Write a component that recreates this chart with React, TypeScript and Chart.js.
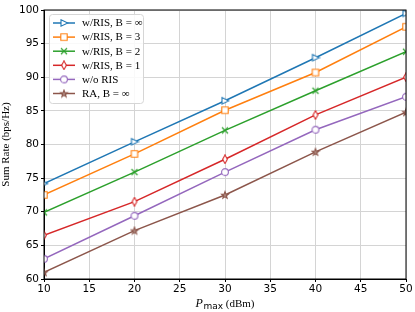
import React, { useEffect, useRef } from "react";
import { Chart, registerables } from "chart.js";

Chart.register(...registerables);

const powers = [10, 20, 30, 40, 50];
const labels = ["w/RIS, B = ∞", "w/RIS, B = 3", "w/RIS, B = 2", "w/RIS, B = 1", "w/o RIS", "RA, B = ∞"];
const risInf = [74.2, 80.4, 86.5, 92.9, 99.5];
const risB3 = [72.5, 78.6, 85.1, 90.7, 97.5];
const risB2 = [69.9, 75.9, 82.1, 88.0, 93.8];
const risB1 = [66.5, 71.5, 77.8, 84.4, 90.0];
const noRis = [63.0, 69.4, 75.9, 82.2, 87.1];
const raInf = [61.0, 67.2, 72.5, 78.9, 84.8];
const xTicks = [10, 15, 20, 25, 30, 35, 40, 45, 50];
const yTicks = [60, 65, 70, 75, 80, 85, 90, 95, 100];

const colors = ["#1f77b4", "#ff7f0e", "#2ca02c", "#d62728", "#9467bd", "#8c564b"];
const markerKinds = ["triR", "square", "x", "diamond", "circle", "star"];

function makeMarker(kind: string, color: string): HTMLCanvasElement {
  const c = document.createElement("canvas");
  const S = 10;
  c.width = S;
  c.height = S;
  const ctx = c.getContext("2d")!;
  const m = S / 2;
  ctx.strokeStyle = color;
  ctx.fillStyle = "#ffffff";
  ctx.lineWidth = 1.1;
  ctx.beginPath();
  if (kind === "triR") {
    ctx.moveTo(2, 1.8);
    ctx.lineTo(8.8, m);
    ctx.lineTo(2, S - 1.8);
    ctx.closePath();
    ctx.fill();
    ctx.stroke();
  } else if (kind === "square") {
    ctx.rect(1.8, 1.8, 6.4, 6.4);
    ctx.fill();
    ctx.stroke();
  } else if (kind === "x") {
    ctx.lineWidth = 1.2;
    ctx.moveTo(2, 2);
    ctx.lineTo(8, 8);
    ctx.moveTo(8, 2);
    ctx.lineTo(2, 8);
    ctx.stroke();
  } else if (kind === "diamond") {
    ctx.moveTo(m, 0.8);
    ctx.lineTo(m + 2.4, m);
    ctx.lineTo(m, S - 0.8);
    ctx.lineTo(m - 2.4, m);
    ctx.closePath();
    ctx.fill();
    ctx.stroke();
  } else if (kind === "circle") {
    ctx.arc(m, m, 3.4, 0, Math.PI * 2);
    ctx.fill();
    ctx.stroke();
  } else if (kind === "star") {
    for (let i = 0; i < 10; i++) {
      const r = i % 2 === 0 ? 3.6 : 1.5;
      const a = -Math.PI / 2 + (i * Math.PI) / 5;
      const px = m + r * Math.cos(a);
      const py = m + 0.3 + r * Math.sin(a);
      if (i === 0) ctx.moveTo(px, py);
      else ctx.lineTo(px, py);
    }
    ctx.closePath();
    ctx.fillStyle = "#b08a80";
    ctx.fill();
    ctx.stroke();
  }
  return c;
}

export default function App() {
  const ref = useRef<HTMLCanvasElement | null>(null);

  useEffect(() => {
    document.body.style.margin = "0";
    const markers = markerKinds.map((k, i) => makeMarker(k, colors[i]));
    const series = [risInf, risB3, risB2, risB1, noRis, raInf];

    const legendPlugin = {
      id: "customLegend",
      afterDatasetsDraw(chart: any) {
        const ctx = chart.ctx as CanvasRenderingContext2D;
        ctx.save();
        const x0 = 49.5, y0 = 14.5, w = 94, h = 89, r = 3;
        ctx.beginPath();
        ctx.moveTo(x0 + r, y0);
        ctx.lineTo(x0 + w - r, y0);
        ctx.quadraticCurveTo(x0 + w, y0, x0 + w, y0 + r);
        ctx.lineTo(x0 + w, y0 + h - r);
        ctx.quadraticCurveTo(x0 + w, y0 + h, x0 + w - r, y0 + h);
        ctx.lineTo(x0 + r, y0 + h);
        ctx.quadraticCurveTo(x0, y0 + h, x0, y0 + h - r);
        ctx.lineTo(x0, y0 + r);
        ctx.quadraticCurveTo(x0, y0, x0 + r, y0);
        ctx.closePath();
        ctx.fillStyle = "rgba(255,255,255,0.85)";
        ctx.fill();
        ctx.strokeStyle = "#d6d6d6";
        ctx.lineWidth = 1;
        ctx.stroke();
        ctx.font = "11px 'Liberation Serif', serif";
        ctx.textBaseline = "middle";
        ctx.fillStyle = "#000";
        labels.forEach((lab, i) => {
          const yy = 23 + i * 14.1;
          ctx.beginPath();
          ctx.strokeStyle = colors[i];
          ctx.lineWidth = 1.5;
          ctx.moveTo(53, yy);
          ctx.lineTo(75, yy);
          ctx.stroke();
          ctx.drawImage(markers[i], 64 - 5, yy - 5);
          ctx.fillStyle = "#000";
          ctx.fillText(lab, 82, yy + 0.5);
        });
        ctx.restore();
      },
    };

    const xTitlePlugin = {
      id: "xTitle",
      afterDraw(chart: any) {
        const ctx = chart.ctx as CanvasRenderingContext2D;
        ctx.save();
        ctx.fillStyle = "#000";
        ctx.textBaseline = "alphabetic";
        const f1 = "italic 12px 'Liberation Serif', serif";
        const f2 = "9px 'DejaVu Sans', sans-serif";
        const f3 = "11px 'Liberation Serif', serif";
        const t1 = "P", t2 = "max", t3 = " (dBm)";
        ctx.font = f1; const w1 = ctx.measureText(t1).width;
        ctx.font = f2; const w2 = ctx.measureText(t2).width;
        ctx.font = f3; const w3 = ctx.measureText(t3).width;
        const total = w1 + w2 + w3 + 0.5;
        let x = 225 - total / 2;
        const base = 307;
        ctx.font = f1; ctx.fillText(t1, x, base); x += w1 + 0.5;
        ctx.font = f2; ctx.fillText(t2, x, base + 2); x += w2;
        ctx.font = f3; ctx.fillText(t3, x, base);
        ctx.restore();
      },
    };

    const chart = new Chart(ref.current!, {
      type: "line",
      data: {
        datasets: series.map((d, i) => ({
          label: labels[i],
          data: d.map((v, j) => ({ x: powers[j], y: v })),
          borderColor: colors[i],
          backgroundColor: colors[i],
          borderWidth: 1.5,
          pointStyle: markers[i] as any,
          pointRadius: 4,
          tension: 0,
        })),
      },
      options: {
        animation: false,
        responsive: false,
        maintainAspectRatio: false,
        layout: { padding: { top: 10, right: 9, left: 0, bottom: 0 } },
        plugins: { legend: { display: false }, tooltip: { enabled: false } },
        scales: {
          x: {
            type: "linear",
            min: 10,
            max: 50,
            afterBuildTicks: (s: any) => { s.ticks = xTicks.map((v) => ({ value: v })); },
            afterFit: (s: any) => { s.height = 33; },
            ticks: { color: "#000", font: { family: "'DejaVu Sans', sans-serif", size: 10.5 }, padding: 1, maxRotation: 0 },
            grid: { color: "#d4d4d4", lineWidth: 1, tickLength: 3, tickColor: "#000" },
            border: { color: "#000", width: 1 },
          },
          y: {
            type: "linear",
            min: 60,
            max: 100,
            afterBuildTicks: (s: any) => { s.ticks = yTicks.map((v) => ({ value: v })); },
            afterFit: (s: any) => { s.width = 44; },
            ticks: { color: "#000", font: { family: "'DejaVu Sans', sans-serif", size: 10.5 }, padding: 2 },
            grid: { color: "#d4d4d4", lineWidth: 1, tickLength: 3, tickColor: "#000" },
            border: { color: "#000", width: 1 },
            title: {
              display: true,
              text: "Sum Rate (bps/Hz)",
              color: "#000",
              font: { family: "'Liberation Serif', serif", size: 11 },
              padding: { top: 0, bottom: 0 },
            },
          },
        },
      },
      plugins: [legendPlugin, xTitlePlugin, {
        id: "frame",
        afterDatasetsDraw(chart: any) {
          const { ctx, chartArea: a } = chart;
          ctx.save();
          ctx.strokeStyle = "#000";
          ctx.lineWidth = 1;
          ctx.strokeRect(a.left, a.top, a.right - a.left, a.bottom - a.top);
          ctx.restore();
        },
      }],
    } as any);
    return () => chart.destroy();
  }, []);

  return (
    <div style={{ position: "absolute", left: 0, top: 0, width: 415, height: 312 }}>
      <canvas ref={ref} width={415} height={312} style={{ width: 415, height: 312 }} />
    </div>
  );
}
